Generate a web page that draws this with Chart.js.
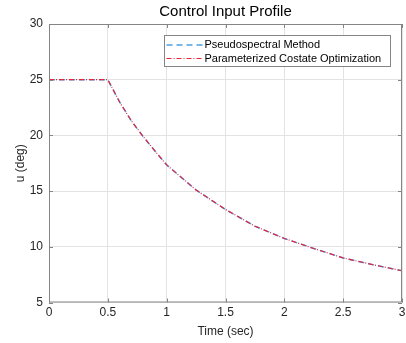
<!DOCTYPE html>
<html>
<head>
<meta charset="utf-8">
<script src="https://cdn.jsdelivr.net/npm/chart.js@4.4.1/dist/chart.umd.min.js"></script>
<style>
  html, body { margin: 0; padding: 0; background: #fff; }
  #wrap { width: 406px; height: 343px; }
</style>
</head>
<body>
<div id="wrap"><canvas id="myChart" width="406" height="343"></canvas></div>
<script>
// values
const timeSec = [0, 0.5, 0.6, 0.7, 0.8, 0.9, 1.0, 1.25, 1.5, 1.75, 2.0, 2.25, 2.5, 2.75, 3.0];
const pseudospectral = [25, 25, 23.0, 21.3, 19.9, 18.6, 17.35, 15.1, 13.35, 11.85, 10.75, 9.85, 9.0, 8.4, 7.85];
const costateOpt = [25, 25, 23.0, 21.3, 19.9, 18.6, 17.35, 15.1, 13.35, 11.85, 10.75, 9.85, 9.0, 8.4, 7.85];

const xTicks = [0, 0.5, 1, 1.5, 2, 2.5, 3];
const yTicks = [5, 10, 15, 20, 25, 30];

const seriesNames = ['Pseudospectral Method', 'Parameterized Costate Optimization'];

const FONT = "'Liberation Sans', Arial, Helvetica, sans-serif";
const BLUE = 'rgb(77, 160, 224)';
const RED = 'rgb(228, 38, 62)';
const AXIS = '#858585';

function toPoints(xs, ys) {
  return xs.map((x, i) => ({ x: x, y: ys[i] }));
}

// box, inward ticks and the legend inside the axes (MATLAB look)
const matlabAxes = {
  id: 'matlabAxes',
  afterDatasetsDraw(chart) {
    const ctx = chart.ctx;
    const a = chart.chartArea;
    const xs = chart.scales.x, ys = chart.scales.y;
    ctx.save();
    ctx.strokeStyle = AXIS;
    ctx.lineWidth = 1;
    ctx.beginPath();
    ctx.rect(a.left + 0.5, a.top + 0.5, a.right - a.left - 1, a.bottom - a.top - 1);
    ctx.stroke();
    ctx.beginPath();
    xTicks.forEach(v => {
      const px = Math.round(xs.getPixelForValue(v)) + 0.5;
      ctx.moveTo(px, a.bottom); ctx.lineTo(px, a.bottom - 4);
      ctx.moveTo(px, a.top); ctx.lineTo(px, a.top + 4);
    });
    yTicks.forEach(v => {
      const py = Math.round(ys.getPixelForValue(v)) + 0.5;
      ctx.moveTo(a.left, py); ctx.lineTo(a.left + 4, py);
      ctx.moveTo(a.right, py); ctx.lineTo(a.right - 4, py);
    });
    ctx.stroke();
    ctx.restore();
  },
  afterDraw(chart) {
    const ctx = chart.ctx;
    const bx = 164.5, by = 35.5, bw = 226, bh = 31;
    ctx.save();
    ctx.fillStyle = '#fff';
    ctx.fillRect(bx, by, bw, bh);
    ctx.strokeStyle = AXIS;
    ctx.lineWidth = 1;
    ctx.strokeRect(bx, by, bw, bh);
    const rows = [by + 9.5, by + 23];
    chart.data.datasets.forEach((ds, i) => {
      ctx.strokeStyle = ds.borderColor;
      ctx.lineWidth = ds.borderWidth;
      ctx.setLineDash(ds.borderDash);
      ctx.beginPath();
      ctx.moveTo(bx + 2, rows[i]);
      ctx.lineTo(bx + 39, rows[i]);
      ctx.stroke();
      ctx.setLineDash([]);
      ctx.fillStyle = '#000';
      ctx.font = '11px ' + FONT;
      ctx.textBaseline = 'middle';
      ctx.textAlign = 'left';
      ctx.fillText(seriesNames[i], bx + 40, rows[i]);
    });
    ctx.restore();
  }
};

const lineConfig = {
  type: 'line',
  data: {
    datasets: [
      {
        label: seriesNames[0],
        data: toPoints(timeSec, pseudospectral),
        borderColor: BLUE,
        borderWidth: 1.5,
        borderDash: [6, 4],
        pointRadius: 0,
        tension: 0,
        order: 2
      },
      {
        label: seriesNames[1],
        data: toPoints(timeSec, costateOpt),
        borderColor: RED,
        borderWidth: 1.2,
        borderDash: [5, 2, 1, 2],
        pointRadius: 0,
        tension: 0,
        order: 1
      }
    ]
  },
  options: {
    responsive: false,
    animation: false,
    layout: { padding: { left: 0, right: 4, top: 0, bottom: 0 } },
    scales: {
      x: {
        type: 'linear',
        min: 0,
        max: 3,
        afterBuildTicks: s => { s.ticks = xTicks.map(v => ({ value: v })); },
        afterFit: s => { s.height = 40.5; s.paddingLeft = 0; s.paddingRight = 0; },
        ticks: {
          color: '#262626',
          font: { family: FONT, size: 12 },
          padding: 3,
          maxRotation: 0,
          callback: v => String(v)
        },
        grid: { color: '#e3e3e3', drawTicks: false },
        border: { display: false },
        title: {
          display: true,
          text: 'Time (sec)',
          color: '#262626',
          font: { family: FONT, size: 12 },
          padding: { top: 0, bottom: 4 }
        }
      },
      y: {
        min: 5,
        max: 30,
        afterBuildTicks: s => { s.ticks = yTicks.map(v => ({ value: v })); },
        afterFit: s => { s.width = 49; s.paddingTop = 0; s.paddingBottom = 0; },
        ticks: {
          color: '#262626',
          font: { family: FONT, size: 12 },
          padding: 6,
          callback: v => String(v)
        },
        grid: { color: '#e3e3e3', drawTicks: false },
        border: { display: false },
        title: {
          display: true,
          text: 'u (deg)',
          color: '#262626',
          font: { family: FONT, size: 12 },
          padding: { top: 13, bottom: 0 }
        }
      }
    },
    plugins: {
      legend: { display: false },
      tooltip: { enabled: false },
      title: {
        display: true,
        text: 'Control Input Profile',
        color: '#000',
        fullSize: false,
        font: { family: FONT, size: 15, weight: 'normal' },
        padding: { top: 3, bottom: 3 }
      }
    }
  },
  plugins: [matlabAxes]
};

const myChart = new Chart(document.getElementById('myChart'), lineConfig);
</script>
</body>
</html>
